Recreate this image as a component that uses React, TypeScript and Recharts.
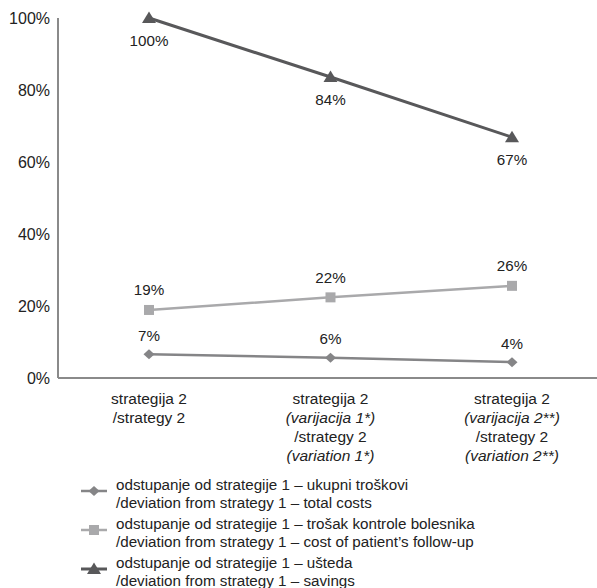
import React from 'react';
import { LineChart, Line, XAxis, YAxis, Legend } from 'recharts';

const categories = ['s2', 's2v1', 's2v2'];
const categoryLines: { text: string; italic: boolean }[][] = [
  [
    { text: 'strategija 2', italic: false },
    { text: '/strategy 2', italic: false },
  ],
  [
    { text: 'strategija 2', italic: false },
    { text: '(varijacija 1*)', italic: true },
    { text: '/strategy 2', italic: false },
    { text: '(variation 1*)', italic: true },
  ],
  [
    { text: 'strategija 2', italic: false },
    { text: '(varijacija 2**)', italic: true },
    { text: '/strategy 2', italic: false },
    { text: '(variation 2**)', italic: true },
  ],
];
const totalCosts = [6.6, 5.6, 4.4];
const followUp = [18.9, 22.4, 25.6];
const savings = [100, 83.6, 66.9];
const yTicks = [0, 20, 40, 60, 80, 100];

const seriesNames = {
  total: ['odstupanje od strategije 1 – ukupni troškovi', '/deviation from strategy 1 – total costs'],
  follow: ['odstupanje od strategije 1 – trošak kontrole bolesnika', '/deviation from strategy 1 – cost of patient’s follow-up'],
  savings: ['odstupanje od strategije 1 – ušteda', '/deviation from strategy 1 – savings'],
};

const data = categories.map((c, i) => ({
  cat: c,
  total: totalCosts[i],
  follow: followUp[i],
  savings: savings[i],
}));

const FONT = '"Liberation Sans", Arial, sans-serif';
const C_TOTAL = '#858587';
const C_FOLLOW = '#a9a9ab';
const C_SAV = '#58585a';
const C_AXIS = '#8a8a8a';
const TEXT = '#222';

const Diamond = (props: any) => {
  const { cx, cy } = props;
  if (cx == null || cy == null) return null;
  return <path d={`M${cx},${cy - 5}L${cx + 5.5},${cy}L${cx},${cy + 5}L${cx - 5.5},${cy}Z`} fill={C_TOTAL} />;
};
const Square = (props: any) => {
  const { cx, cy } = props;
  if (cx == null || cy == null) return null;
  return <rect x={cx - 5} y={cy - 5} width={10} height={10} fill={C_FOLLOW} />;
};
const Triangle = (props: any) => {
  const { cx, cy } = props;
  if (cx == null || cy == null) return null;
  return <path d={`M${cx},${cy - 6.5}L${cx + 7},${cy + 5}L${cx - 7},${cy + 5}Z`} fill={C_SAV} />;
};

const makeLabel = (dy: number) => (props: any) => {
  const { x, y, value } = props;
  return (
    <text x={x} y={y + dy} textAnchor="middle" dominantBaseline="central" fontSize={15.2} fontFamily={FONT} fill={TEXT}>
      {Math.round(value)}%
    </text>
  );
};

const XTick = (props: any) => {
  const { x, y, index } = props;
  const lines = categoryLines[index] || [];
  return (
    <text x={x} y={y} textAnchor="middle" fontSize={15.5} fontFamily={FONT} fill={TEXT}>
      {lines.map((l, i) => (
        <tspan key={i} x={x} dy={i === 0 ? 18 : 19} fontStyle={l.italic ? 'italic' : 'normal'}>
          {l.text}
        </tspan>
      ))}
    </text>
  );
};

const LegendIcon = ({ kind }: { kind: string }) => {
  let marker: React.ReactNode = null;
  let color = C_TOTAL;
  if (kind === 'total') {
    color = C_TOTAL;
    marker = <path d="M13,10L18.5,15L13,20L7.5,15Z" fill={C_TOTAL} />;
  } else if (kind === 'follow') {
    color = C_FOLLOW;
    marker = <rect x={8} y={10} width={10} height={10} fill={C_FOLLOW} />;
  } else {
    color = C_SAV;
    marker = <path d="M13,8.5L20,20L6,20Z" fill={C_SAV} />;
  }
  return (
    <svg width={26} height={30} style={{ position: 'absolute', left: 81, top: 0 }}>
      <line x1={0} y1={15} x2={26} y2={15} stroke={color} strokeWidth={kind === 'savings' ? 3 : 2.5} />
      {marker}
    </svg>
  );
};

const LegendContent = () => {
  const items: [string, string[]][] = [
    ['total', seriesNames.total],
    ['follow', seriesNames.follow],
    ['savings', seriesNames.savings],
  ];
  return (
    <div style={{ position: 'relative', width: 597, height: 112, fontFamily: FONT, fontSize: 15.2, color: TEXT }}>
      {items.map(([k, lines], i) => (
        <div key={k} style={{ position: 'absolute', left: 0, top: i * 39, width: 597, height: 39 }}>
          <LegendIcon kind={k} />
          <div style={{ position: 'absolute', left: 116, top: 0, lineHeight: '18px', whiteSpace: 'nowrap' }}>
            <div>{lines[0]}</div>
            <div>{lines[1]}</div>
          </div>
        </div>
      ))}
    </div>
  );
};

export default function App() {
  return (
    <div style={{ position: 'absolute', left: 0, top: 0, width: 597, height: 588, overflow: 'hidden', background: '#fff' }}>
      <LineChart width={610} height={588} data={data} margin={{ top: 18, right: 7, left: 0, bottom: 0 }}>
        <XAxis
          dataKey="cat"
          padding={{ left: 91, right: 91 }}
          axisLine={{ stroke: C_AXIS, strokeWidth: 2 }}
          tickLine={false}
          height={98}
          tick={<XTick />}
          interval={0}
        />
        <YAxis
          width={58}
          domain={[0, 100]}
          ticks={yTicks}
          tickFormatter={(v: number) => `${v}%`}
          axisLine={{ stroke: C_AXIS, strokeWidth: 2 }}
          tickLine={false}
          tick={{ fontSize: 16, fontFamily: FONT, fill: TEXT }}
        />
        <Legend
          verticalAlign="bottom"
          align="left"
          content={<LegendContent />}
          wrapperStyle={{ left: 0, bottom: 0, width: 597, height: 112 }}
        />
        <Line
          dataKey="total"
          stroke={C_TOTAL}
          strokeWidth={2.5}
          dot={<Diamond />}
          activeDot={false}
          label={makeLabel(-19)}
          isAnimationActive={false}
        />
        <Line
          dataKey="follow"
          stroke={C_FOLLOW}
          strokeWidth={2.5}
          dot={<Square />}
          activeDot={false}
          label={makeLabel(-20)}
          isAnimationActive={false}
        />
        <Line
          dataKey="savings"
          stroke={C_SAV}
          strokeWidth={3}
          dot={<Triangle />}
          activeDot={false}
          label={makeLabel(22)}
          isAnimationActive={false}
        />
      </LineChart>
    </div>
  );
}
